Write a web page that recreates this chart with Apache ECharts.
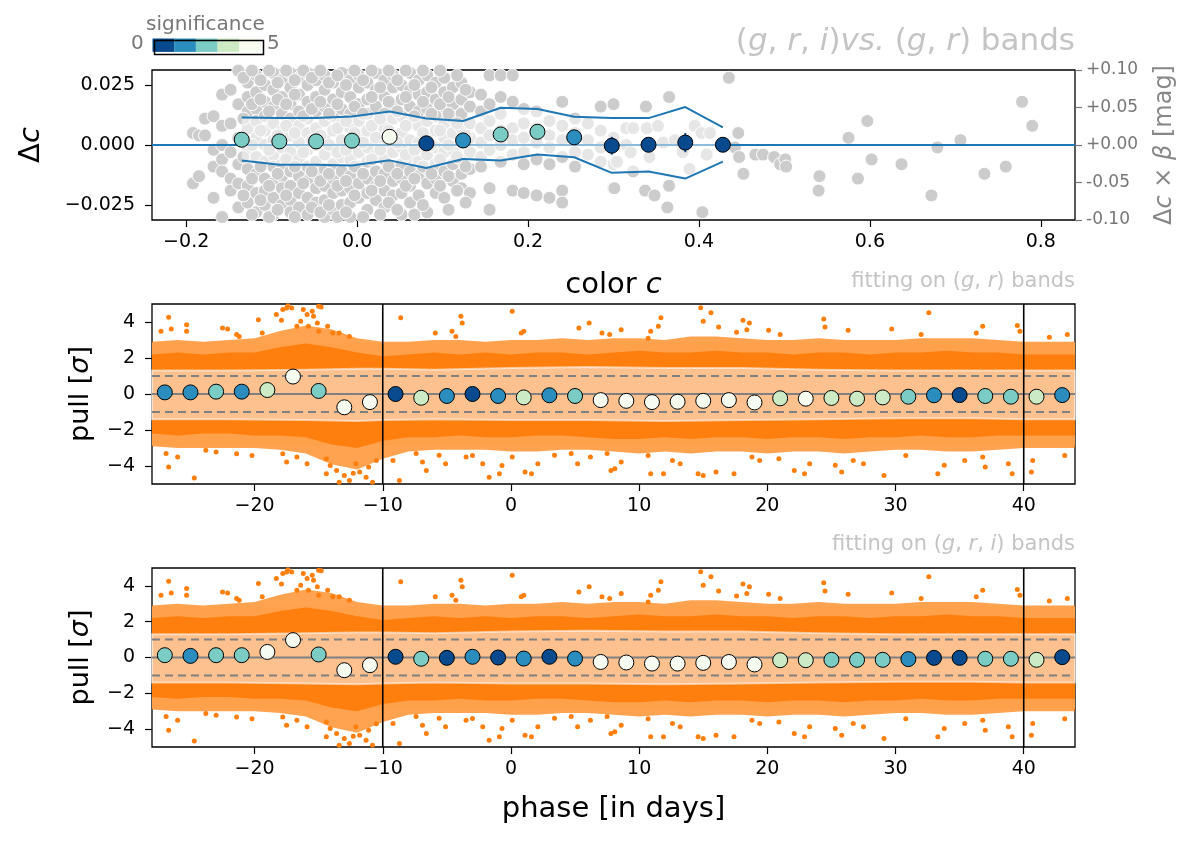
<!DOCTYPE html>
<html>
<head>
<meta charset="utf-8">
<script src="https://cdn.jsdelivr.net/npm/echarts@6/dist/echarts.min.js"></script>
<style>
    html, body {margin:0;padding:0;background:#fff}
    #chart {width:1200px;height:843px}
</style>
</head>
<body>
<div id="chart"></div>
<script>
    // ---- top panel: color residuals ----
    var binC   = [-0.135, -0.091, -0.048, -0.006, 0.038, 0.081, 0.124, 0.168, 0.211, 0.254, 0.298, 0.341, 0.384, 0.428];
    var dC     = [0.0022, 0.0015, 0.0015, 0.0018, 0.0034, 0.0007, 0.0019, 0.0044, 0.0055, 0.0032, -0.0003, 0.0001, 0.0010, 0.0001];
    var sigC   = [2.5, 2.5, 2.5, 2.5, 4.5, 0.5, 1.5, 2.5, 2.5, 1.5, 0.5, 0.5, 0.5, 0.5];
    var errC   = [0.0012, 0.0012, 0.0012, 0.0012, 0.0013, 0.0014, 0.0015, 0.0017, 0.0019, 0.0022, 0.0037, 0.0026, 0.0040, 0.0025];
    var upC    = [0.0115, 0.0112, 0.0112, 0.0119, 0.0140, 0.0110, 0.0100, 0.0155, 0.0150, 0.0118, 0.0112, 0.0112, 0.0158, 0.0073];
    var loC    = [-0.0065, -0.0082, -0.0082, -0.0085, -0.0064, -0.0096, -0.0058, -0.0065, -0.0040, -0.0051, -0.0116, -0.0110, -0.0140, -0.0069];
    var zeroX  = [-0.24, 0.84];
    var zeroY  = [0, 0];

    // gray objects: columns of [color, list of delta c in 1e-3]
    var grayCols = [
        [-0.192, [5, -16]], [-0.185, [4, -13]], [-0.178, [4, 11]],
        [-0.168, [12, -2, -9, -22]], [-0.158, [21, 8, 0, -6, -11, -30]],
        [-0.148, [23, 9, -3, -14, -19]], [-0.139, [31, 17, 3, -8, -16, -26]],
        [-0.128, [26, 20, 14, 7, -1, -10, -17, -24]],
        [-0.118, [29, 22, 15, 10, 3, -5, -12, -20, -28]],
        [-0.108, [25, 18, 12, 6, 0, -7, -14, -19, -25]],
        [-0.098, [30, 23, 16, 9, 2, -4, -9, -16, -22, -29]],
        [-0.088, [27, 20, 13, 6, -1, -8, -13, -18, -25]],
        [-0.078, [30, 24, 17, 11, 4, -3, -11, -17, -23, -28]],
        [-0.068, [28, 21, 14, 8, 1, -6, -13, -20, -26]],
        [-0.058, [30, 25, 18, 11, 5, -2, -9, -15, -22, -29]],
        [-0.048, [27, 20, 14, 7, 0, -7, -12, -18, -24]],
        [-0.038, [29, 23, 16, 10, 3, -4, -10, -17, -23, -30]],
        [-0.028, [26, 19, 12, 6, -1, -8, -14, -20, -27]],
        [-0.018, [30, 22, 15, 9, 2, -5, -11, -19, -25]],
        [-0.008, [27, 20, 13, 7, 0, -6, -13, -18, -24, -30]],
        [0.002, [29, 24, 17, 10, 4, -3, -9, -16, -22]],
        [0.012, [26, 19, 13, 6, -1, -7, -14, -20, -27]],
        [0.022, [30, 23, 16, 9, 3, -4, -11, -17, -23]],
        [0.032, [27, 20, 13, 7, 0, -6, -12, -19, -26]],
        [0.042, [29, 24, 17, 11, 4, -3, -9, -15, -21]],
        [0.052, [25, 19, 12, 5, -1, -8, -14, -20, -29]],
        [0.062, [30, 23, 16, 9, 2, -5, -11, -17, -24]],
        [0.072, [27, 21, 14, 8, 1, -7, -13, -21]],
        [0.082, [29, 22, 15, 10, 3, -4, -10, -16, -28]],
        [0.092, [26, 19, 12, 6, -1, -8, -14, -20]],
        [0.102, [28, 22, 16, 9, 3, -3, -11, -22]],
        [0.112, [24, 17, 11, 5, -2, -8, -15]],
        [0.122, [26, 19, 13, 7, 1, -6, -12, -18]],
        [0.132, [22, 16, 9, 3, -3, -10, -20]],
        [0.145, [21, 14, 7, 1, -5, -9]],
        [0.155, [29, 17, 10, 4, -2, -18, -27]],
        [0.168, [29, 20, 13, 6, 0, -7]],
        [0.182, [29, 18, 7, 2, -4, -19]],
        [0.195, [15, 9, 3, -3, -8, -20]],
        [0.210, [14, 7, 1, -6, -21]],
        [0.225, [10, 4, -1, -8, -22]],
        [0.240, [18, 8, 2, -5, -19, -24]],
        [0.255, [11, 5, -3, -9]],
        [0.270, [9, 2, -4]],
        [0.285, [16, 6, -1, -7]],
        [0.300, [17, 3, -8, -18]]
    ];
    // second, offset layer of the dense core
    var grayCols2 = [
        [-0.133, [28, 11, -5, -21]], [-0.123, [31, 17, 0, -14, -29]], [-0.113, [27, 19, 6, -9, -23]],
        [-0.103, [31, 14, -2, -17, -30]], [-0.093, [26, 19, 4, -12, -27]], [-0.083, [31, 17, 8, -6, -21]],
        [-0.073, [27, 21, 5, -9, -30]], [-0.063, [31, 12, -3, -16]], [-0.053, [28, 15, 2, -11, -26]],
        [-0.043, [31, 18, 4, -15, -28]], [-0.033, [26, 13, 0, -12, -25]], [-0.023, [29, 17, 7, -3, -17, -30]],
        [-0.013, [25, 10, -2, -15, -28]], [-0.003, [31, 16, 5, -9, -21]], [0.007, [27, 13, 1, -12, -30]],
        [0.017, [31, 20, 8, -6, -19]], [0.027, [24, 11, -2, -15, -29]], [0.037, [31, 18, 6, -9, -24]],
        [0.047, [27, 14, 1, -12, -27]], [0.057, [31, 20, 8, -4, -17]], [0.067, [25, 12, -2, -14, -29]],
        [0.077, [31, 18, 5, -9, -25]], [0.087, [24, 13, 0, -12]], [0.097, [31, 17, 6, -6, -17]],
        [0.107, [20, 13, 0, -13, -27]], [0.117, [29, 9, -5, -19]], [0.127, [23, 4, -9, -24]]
    ];
    // sparse gray objects on the red side, [color, delta c in 1e-3]
    var grayFar = [
        [0.315, 7], [0.323, 7], [0.339, 7], [0.352, 8], [0.395, 8], [0.403, 5], [0.413, 5], [0.358, 1],
        [0.315, 0], [0.372, 2], [0.320, -3], [0.342, -5], [0.381, -3], [0.409, -4], [0.323, -11], [0.304, -7],
        [0.389, -10], [0.365, -17], [0.337, -19], [0.348, -21], [0.363, -26], [0.404, -28], [0.301, -18],
        [0.338, 16], [0.365, 20], [0.435, 28], [0.446, 5], [0.442, -1], [0.447, -5], [0.452, -12], [0.466, -4],
        [0.475, -4], [0.488, -5], [0.495, -8], [0.501, -6], [0.502, -9], [0.541, -13], [0.540, -19], [0.575, 3],
        [0.597, 10], [0.602, -6], [0.586, -14], [0.637, -8], [0.672, -21], [0.679, -1], [0.706, 2], [0.734, -12],
        [0.759, -9], [0.778, 18], [0.790, 8]
    ];

    // ---- pull panels ----
    var binPhase = [-27, -25, -23, -21, -19, -17, -15, -13, -11, -9, -7, -5, -3, -1, 1, 3, 5, 7, 9, 11, 13, 15, 17, 19, 21, 23, 25, 27, 29, 31, 33, 35, 37, 39, 41, 43];
    var pullGR   = [0.09, 0.09, 0.13, 0.13, 0.22, 0.97, 0.17, -0.74, -0.45, 0.0, -0.21, -0.11, 0.0, -0.11, -0.19, -0.07, -0.11, -0.34, -0.38, -0.45, -0.43, -0.38, -0.34, -0.47, -0.24, -0.26, -0.22, -0.26, -0.19, -0.15, -0.07, -0.06, -0.11, -0.15, -0.15, -0.06];
    var sigGR    = [1.5, 1.5, 2.5, 1.5, 3.5, 4.5, 2.5, 4.5, 4.5, 0.5, 3.5, 1.5, 0.5, 1.5, 3.5, 1.5, 2.5, 4.5, 4.5, 4.5, 4.5, 4.5, 4.5, 4.5, 3.5, 4.5, 3.5, 3.5, 3.5, 2.5, 1.5, 0.5, 2.5, 2.5, 3.5, 1.5];
    var pullGRI  = [0.13, 0.09, 0.13, 0.13, 0.31, 0.97, 0.17, -0.71, -0.43, 0.04, -0.07, -0.02, 0.04, 0.0, -0.06, 0.04, -0.06, -0.25, -0.28, -0.34, -0.34, -0.30, -0.25, -0.39, -0.15, -0.15, -0.13, -0.13, -0.13, -0.09, -0.02, -0.02, -0.07, -0.07, -0.13, 0.02];
    var sigGRI   = [2.5, 1.5, 2.5, 2.5, 4.5, 4.5, 2.5, 4.5, 4.5, 0.5, 2.5, 0.5, 1.5, 0.5, 1.5, 0.5, 1.5, 4.5, 4.5, 4.5, 4.5, 4.5, 4.5, 4.5, 3.5, 3.5, 2.5, 2.5, 2.5, 1.5, 0.5, 0.5, 2.5, 2.5, 3.5, 0.5];

    // envelope of the dense cloud of individual pulls
    var cloudX = [-28, -26, -24, -22, -20, -18, -16, -14, -12, -10, -8, -6, -4, -2, 0, 2, 4, 6, 8, 10, 12, 14, 16, 18, 20, 22, 24, 26, 28, 30, 32, 34, 36, 38, 40, 42, 44];
    var coreUp = [2.2, 2.3, 2.2, 2.3, 2.3, 2.6, 2.8, 2.6, 2.3, 2.1, 2.2, 2.3, 2.2, 2.3, 2.2, 2.3, 2.3, 2.2, 2.3, 2.4, 2.3, 2.3, 2.4, 2.3, 2.3, 2.2, 2.3, 2.3, 2.2, 2.3, 2.3, 2.4, 2.3, 2.3, 2.2, 2.2, 2.2];
    var haloUp = [2.9, 3.0, 2.9, 3.0, 3.1, 3.5, 3.8, 3.6, 3.1, 2.9, 2.9, 3.0, 3.0, 2.9, 3.0, 3.0, 3.1, 3.0, 3.1, 3.1, 3.0, 3.2, 3.2, 3.1, 3.0, 3.0, 3.1, 3.0, 3.0, 3.0, 3.1, 3.1, 3.1, 3.0, 2.9, 2.9, 2.9];
    var coreLo = [-2.2, -2.3, -2.2, -2.2, -2.3, -2.3, -2.4, -2.8, -3.0, -2.6, -2.4, -2.4, -2.3, -2.4, -2.4, -2.3, -2.3, -2.4, -2.5, -2.5, -2.4, -2.5, -2.4, -2.4, -2.5, -2.4, -2.4, -2.5, -2.4, -2.4, -2.3, -2.4, -2.4, -2.3, -2.3, -2.3, -2.3];
    var haloLo = [-2.9, -3.0, -3.0, -3.0, -3.0, -3.1, -3.3, -3.9, -4.2, -3.6, -3.2, -3.1, -3.1, -3.1, -3.2, -3.2, -3.1, -3.1, -3.2, -3.3, -3.2, -3.3, -3.2, -3.2, -3.3, -3.2, -3.2, -3.3, -3.2, -3.1, -3.1, -3.2, -3.2, -3.1, -3.0, -3.0, -3.0];
    var wideX  = [-28, 44];
    var wideUp = [2.85, 2.85];
    var wideLo = [-2.85, -2.85];

    // light band around the pull distribution
    var bandX  = [-28, -22, -16, -12, -10, -6, 0, 6, 12, 18, 24, 30, 36, 40, 44];
    var bandUp = [1.3, 1.3, 1.35, 1.4, 1.4, 1.35, 1.45, 1.5, 1.45, 1.45, 1.35, 1.3, 1.3, 1.3, 1.3];
    var bandLo = [-1.4, -1.4, -1.45, -1.5, -1.45, -1.4, -1.45, -1.45, -1.5, -1.45, -1.4, -1.35, -1.35, -1.4, -1.4];

    // individual pulls outside the dense cloud [phase, pull]
    var outliers = [
        [-26.7, 4.26], [-27.3, 3.48], [-26.5, 3.61], [-25.3, 3.85], [-25.3, 3.48], [-22.5, 3.66], [-22.1, 3.61],
        [-21.4, 3.3], [-21.2, 3.2], [-19.7, 4.13], [-19.4, 3.39], [-18.3, 4.41], [-17.9, 4.1], [-17.5, 4.78],
        [-17.4, 4.9], [-17.1, 4.78], [-17.8, 4.69], [-16.2, 4.69], [-15.9, 4.41], [-15.5, 4.6], [-15.4, 4.32],
        [-16.4, 4.04], [-16.7, 3.76], [-15.8, 3.76], [-15.0, 4.88], [-14.8, 4.84], [-15.1, 3.95], [-15.0, 3.48],
        [-14.3, 3.76], [-13.9, 3.39], [-13.4, 3.39], [-12.6, 3.2], [-8.6, 4.23], [-3.9, 4.32], [-3.8, 3.95],
        [-4.6, 3.48], [-4.3, 3.2], [0.1, 4.6], [1.0, 3.48], [0.8, 3.39], [6.1, 3.95], [5.3, 3.66], [7.1, 3.39],
        [-5.9, 3.39], [7.7, 3.3], [8.6, 3.57], [10.7, 3.1], [10.9, 3.48], [11.5, 3.76], [11.7, 4.23], [14.8, 4.79],
        [15.6, 4.51], [15.0, 4.04], [16.2, 3.72], [17.6, 3.43], [18.1, 4.1], [18.4, 3.57], [18.6, 3.95], [20.1, 3.54],
        [21.0, 3.3], [24.4, 4.17], [24.5, 3.72], [26.3, 3.54], [29.7, 3.61], [32.6, 4.51], [32.0, 3.3], [36.3, 3.39],
        [36.8, 3.76], [39.5, 3.8], [39.7, 3.48], [42.0, 3.15], [43.4, 3.3],
        [-26.7, -4.06], [-24.7, -4.66], [-26.0, -3.5], [-26.9, -3.3], [-23.8, -3.13], [-23.0, -3.22], [-21.4, -3.32],
        [-20.2, -3.42], [-17.8, -3.32], [-17.5, -3.78], [-16.7, -3.5], [-15.9, -3.87], [-14.4, -3.6], [-14.4, -4.43],
        [-14.1, -3.97], [-13.6, -4.25], [-13.4, -4.9], [-13.0, -4.53], [-12.6, -4.8], [-12.1, -3.87], [-11.8, -4.34],
        [-11.3, -4.62], [-10.8, -4.9], [-11.1, -4.06], [-10.5, -3.7], [-12.3, -4.4], [-9.2, -3.69], [-8.7, -4.8],
        [-7.4, -3.3], [-6.9, -3.78], [-6.6, -4.25], [-5.6, -3.4], [-5.1, -3.87], [-3.5, -3.5], [-3.0, -3.41],
        [-2.2, -3.87], [-1.7, -4.62], [-0.9, -4.43], [-0.7, -3.97], [0.1, -3.5], [1.1, -4.34], [1.6, -4.43],
        [2.1, -3.87], [3.4, -3.4], [4.7, -3.3], [5.2, -3.87], [6.2, -3.5], [7.5, -3.3], [7.8, -4.25],
        [8.6, -3.78], [8.1, -4.15], [10.9, -4.43], [11.9, -4.43], [10.7, -3.42], [12.6, -3.69], [13.2, -3.87],
        [14.6, -4.43], [15.0, -4.53], [16.0, -4.34], [17.4, -4.43], [18.8, -3.5], [19.4, -3.69], [20.9, -3.6],
        [22.1, -4.25], [22.9, -4.43], [23.3, -3.87], [25.3, -3.96], [25.8, -4.34], [26.7, -3.69], [27.5, -3.87],
        [29.1, -4.53], [30.8, -3.42], [33.3, -4.43], [33.8, -3.96], [35.4, -3.69], [36.8, -3.5], [37.0, -4.06],
        [38.8, -3.87], [39.1, -4.43], [40.7, -3.69], [40.6, -4.34], [43.2, -3.42]
    ];

    var phaseRange = [-28, 44];
    var pullRange  = [-5, 5];
    var solidLevels = [0];
    var dashLevels  = [1, -1];
    var vLines      = [-10, 40];

    var colorTicks = [-0.2, 0, 0.2, 0.4, 0.6, 0.8];
    var dcTicks    = [-0.025, 0, 0.025];
    var phaseTicks = [-20, -10, 0, 10, 20, 30, 40];
    var pullTicks  = [-4, -2, 0, 2, 4];

    var FONT = 'DejaVu Sans';
    var sigColors = ['#084a8d', '#2b8cbe', '#7bccc4', '#ccebc5', '#f7fcf0'];

    var grayPts = [];
    grayCols.concat(grayCols2).forEach(function (col) {
        col[1].forEach(function (v) { grayPts.push([col[0], v / 1000]); });
    });
    grayFar.forEach(function (p) { grayPts.push([p[0], p[1] / 1000]); });

    function zip() {
        var a = arguments, out = [];
        for (var i = 0; i < a[0].length; i++) {
            var row = [];
            for (var k = 0; k < a.length; k++) row.push(a[k][i]);
            out.push(row);
        }
        return out;
    }
    function mfmt(v, d) {
        if (Math.abs(v) < 1e-9) v = 0;
        return (v < 0 ? '\u2212' : '') + Math.abs(v).toFixed(d);
    }
    function richStyle(size, color) {
        return {
            t: {fontSize: size, fontFamily: FONT, fontWeight: 'normal', color: color},
            i: {fontSize: size, fontFamily: FONT, fontWeight: 'normal', fontStyle: 'italic', color: color}
        };
    }

    function bandSeries(xi, yi, xs, up, lo, style, z) {
        return {
            type: 'custom', xAxisIndex: xi, yAxisIndex: yi, z: z, silent: true,
            data: [[xs[0], up[0]]],
            renderItem: function (params, api) {
                var pts = [];
                for (var i = 0; i < xs.length; i++) pts.push(api.coord([xs[i], up[i]]));
                for (var j = xs.length - 1; j >= 0; j--) pts.push(api.coord([xs[j], lo[j]]));
                return {type: 'polygon', shape: {points: pts}, style: style};
            }
        };
    }
    function lineSeries(xi, yi, data, color, width, type, z) {
        return {
            type: 'line', xAxisIndex: xi, yAxisIndex: yi, z: z, silent: true, symbol: 'none',
            lineStyle: {color: color, width: width, type: type}, data: data
        };
    }

    function valAxis(gi, min, max, ticks, fmt, margin) {
        return {
            type: 'value', gridIndex: gi, min: min, max: max,
            axisLine: {show: false, onZero: false},
            axisTick: {show: true, length: 7, lineStyle: {color: '#000', width: 1.2}, customValues: ticks},
            axisLabel: {customValues: ticks, fontSize: 19, fontFamily: FONT, color: '#000', margin: margin, formatter: fmt},
            splitLine: {show: false}
        };
    }
    function withName(ax, name, gap, size, color) {
        ax.name = name;
        ax.nameLocation = 'middle';
        ax.nameGap = gap;
        ax.nameTextStyle = {rich: richStyle(size, color)};
        return ax;
    }
    var fmt0 = function (v) { return mfmt(v, 0); };

    function pullSeries(xi, yi, pulls, sigs, f) {
        var out = [];
        if (!f.noBands) {
            out.push(bandSeries(xi, yi, wideX, wideUp, wideLo, {fill: '#fff2e6'}, 1));
            out.push(bandSeries(xi, yi, cloudX, haloUp, haloLo, {fill: 'rgba(255,127,14,0.72)'}, 2));
            out.push(bandSeries(xi, yi, cloudX, coreUp, coreLo, {fill: '#ff7f0e'}, 3));
        }
        out.push({
            type: 'scatter', xAxisIndex: xi, yAxisIndex: yi, z: 4, silent: true,
            symbolSize: 5, itemStyle: {color: '#ff7f0e', opacity: 1}, data: outliers
        });
        if (!f.noBands) {
            out.push(bandSeries(xi, yi, bandX, bandUp, bandLo,
                {fill: '#fdc18f', stroke: 'rgba(255,255,255,0.55)', lineWidth: 2}, 5));
        }
        solidLevels.forEach(function (v) {
            out.push(lineSeries(xi, yi, [[phaseRange[0], v], [phaseRange[1], v]], '#808080', 2, 'solid', 6));
        });
        dashLevels.forEach(function (v) {
            out.push(lineSeries(xi, yi, [[phaseRange[0], v], [phaseRange[1], v]], '#808080', 2, [8, 5], 6));
        });
        vLines.forEach(function (v) {
            out.push(lineSeries(xi, yi, [[v, pullRange[0]], [v, pullRange[1]]], '#000', 1.6, 'solid', 7));
        });
        out.push({
            type: 'scatter', xAxisIndex: xi, yAxisIndex: yi, z: 8, silent: true,
            symbolSize: 15, itemStyle: {borderColor: '#000', borderWidth: 1, opacity: 1},
            data: zip(binPhase, pulls, sigs)
        });
        return out;
    }

    function build(f) {
        var series = [
            {
                type: 'scatter', xAxisIndex: 0, yAxisIndex: 0, z: 1, silent: true,
                symbolSize: 13, itemStyle: {color: '#cccccc', borderColor: '#fff', borderWidth: 1, opacity: 1},
                data: grayPts
            },
            lineSeries(0, 0, zip(zeroX, zeroY), '#1f77b4', 1.8, 'solid', 2)
        ];
        if (!f.noBands) series.push(bandSeries(0, 0, binC, upC, loC, {fill: 'rgba(255,255,255,0.5)'}, 3));
        series.push(lineSeries(0, 0, zip(binC, upC), '#1f77b4', 2, 'solid', 4));
        series.push(lineSeries(0, 0, zip(binC, loC), '#1f77b4', 2, 'solid', 4));
        var errIdx = series.length;
        series.push({
            type: 'custom', xAxisIndex: 0, yAxisIndex: 0, z: 5, silent: true,
            data: zip(binC, dC, sigC, errC), encode: {x: 0, y: 1},
            renderItem: function (params, api) {
                var x = api.value(0), y = api.value(1), e = api.value(3);
                var p1 = api.coord([x, y + e]), p2 = api.coord([x, y - e]);
                return {type: 'line', shape: {x1: p1[0], y1: p1[1], x2: p2[0], y2: p2[1]},
                    style: {stroke: api.visual('color'), lineWidth: 2}};
            }
        });
        var dotIdx = [errIdx, series.length];
        series.push({
            type: 'scatter', xAxisIndex: 0, yAxisIndex: 0, z: 6, silent: true,
            symbolSize: 15, itemStyle: {borderColor: '#000', borderWidth: 1, opacity: 1},
            data: zip(binC, dC, sigC)
        });
        series = series.concat(pullSeries(1, 2, pullGR, sigGR, f));
        dotIdx.push(series.length - 1);
        series = series.concat(pullSeries(2, 3, pullGRI, sigGRI, f));
        dotIdx.push(series.length - 1);

        var grids = [
            {left: 152, top: 70, width: 923, height: 150},
            {left: 152, top: 304, width: 923, height: 180},
            {left: 152, top: 568, width: 923, height: 179}
        ];
        grids.forEach(function (g) {
            g.show = true;
            g.borderColor = '#000';
            if (!f.plainGrid) g.borderWidth = 1.3;
        });

        var rightAxis = {
            type: 'value', gridIndex: 0, position: 'right', min: -0.1, max: 0.1, interval: 0.05,
            axisLine: {show: false, onZero: false},
            axisTick: {show: true, length: 7, lineStyle: {color: '#777', width: 1.2}},
            axisLabel: {fontSize: 17, fontFamily: FONT, color: '#777', margin: 11,
                formatter: function (v) { return (v > -1e-9 ? '+' : '-') + Math.abs(v).toFixed(2); }},
            splitLine: {show: false}
        };

        var o = {
            backgroundColor: '#fff',
            animation: false,
            textStyle: {fontFamily: FONT},
            visualMap: {
                type: 'piecewise', seriesIndex: dotIdx, dimension: 2,
                orient: 'horizontal', left: 152.5, top: 38.5, padding: 0,
                itemWidth: 21.7, itemHeight: 13.4, itemGap: 0, itemSymbol: 'rect',
                showLabel: false, selectedMode: false, hoverLink: false,
                pieces: sigColors.map(function (c, i) { return {gte: i, lt: i + 1, color: c}; })
            },
            grid: grids,
            xAxis: [
                withName(valAxis(0, -0.24, 0.84, colorTicks, function (v) { return mfmt(v, 1); }, 13),
                    '{t|color }{i|c}', 51, 29, '#000'),
                valAxis(1, phaseRange[0], phaseRange[1], phaseTicks, fmt0, 13),
                withName(valAxis(2, phaseRange[0], phaseRange[1], phaseTicks, fmt0, 13),
                    '{t|phase [in days]}', 48, 29, '#000')
            ],
            yAxis: [
                withName(valAxis(0, -0.03125, 0.03125, dcTicks, function (v) { return mfmt(v, 3); }, 17),
                    '{t|\u0394}{i|c}', 106, 29, '#000'),
                withName(rightAxis, '{t|\u0394}{i|c}{t| \u00d7 }{i|\u03b2}{t| [mag]}', 78, 24, '#888'),
                withName(valAxis(1, pullRange[0], pullRange[1], pullTicks, fmt0, 17), '{t|pull [}{i|\u03c3}{t|]}', 58, 27, '#000'),
                withName(valAxis(2, pullRange[0], pullRange[1], pullTicks, fmt0, 17), '{t|pull [}{i|\u03c3}{t|]}', 58, 27, '#000')
            ],
            series: series
        };
        if (!f.noTitles) {
            o.title = [
                {
                    text: '{t|(}{i|g}{t|, }{i|r}{t|, }{i|i}{t|)}{i|vs.}{t| (}{i|g}{t|, }{i|r}{t|) bands}',
                    right: 125, top: 26, padding: 0,
                    textStyle: {fontWeight: 'normal', rich: richStyle(31, '#c4c4c4')}
                },
                {
                    text: '{t|fitting on (}{i|g}{t|, }{i|r}{t|) bands}',
                    right: 125, top: 271, padding: 0,
                    textStyle: {fontWeight: 'normal', rich: richStyle(21, '#c4c4c4')}
                },
                {
                    text: '{t|fitting on (}{i|g}{t|, }{i|r}{t|, }{i|i}{t|) bands}',
                    right: 125, top: 534, padding: 0,
                    textStyle: {fontWeight: 'normal', rich: richStyle(21, '#c4c4c4')}
                },
                {
                    text: 'significance', left: 146, top: 15, padding: 0,
                    textStyle: {fontSize: 20, fontFamily: FONT, fontWeight: 'normal', color: '#777'}
                }
            ];
        }
        if (!f.noGraphic) {
            o.graphic = [
                {type: 'rect', left: 152, top: 38, z: 100,
                    shape: {width: 109, height: 14}, style: {fill: 'none', stroke: '#000', lineWidth: 1.5}},
                {type: 'text', left: 131, top: 34, z: 100,
                    style: {text: '0', fontSize: 20, fontFamily: FONT, fill: '#777'}},
                {type: 'text', left: 267, top: 34, z: 100,
                    style: {text: '5', fontSize: 20, fontFamily: FONT, fill: '#777'}}
            ];
        }
        return o;
    }

    var attempts = [
        {},
        {plainGrid: true},
        {plainGrid: true, noGraphic: true},
        {plainGrid: true, noGraphic: true, noBands: true},
        {plainGrid: true, noGraphic: true, noBands: true, noTitles: true}
    ];
    var dom = document.getElementById('chart');
    for (var a = 0; a < attempts.length; a++) {
        var chart = echarts.init(dom, null, {renderer: 'canvas'});
        try {
            chart.setOption(build(attempts[a]));
            break;
        } catch (e) {
            chart.dispose();
        }
    }
</script>
</body>
</html>
